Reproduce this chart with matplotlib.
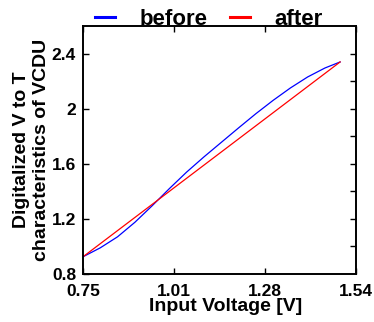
import matplotlib
matplotlib.use("Agg")
import matplotlib.pyplot as plt
import numpy as np

plt.rcParams['font.family'] = ['Liberation Sans', 'DejaVu Sans']
plt.rcParams['font.weight'] = 'bold'

# Data
x_before = [0.75, 0.80, 0.85, 0.90, 0.95, 1.00, 1.05, 1.10, 1.15, 1.20, 1.25, 1.30, 1.35, 1.40, 1.45, 1.494]
y_before = [0.925, 0.990, 1.070, 1.175, 1.295, 1.420, 1.540, 1.650, 1.755, 1.860, 1.963, 2.060, 2.150, 2.230, 2.295, 2.339]
x_after = [0.75, 1.494]
y_after = [0.925, 2.339]

x_ticks = [0.75, 1.0133, 1.2767, 1.54]
x_ticklabels = ['0.75', '1.01', '1.28', '1.54']
y_ticks = [0.8, 1.2, 1.6, 2.0, 2.4]
y_ticklabels = ['0.8', '1.2', '1.6', '2', '2.4']
y_right_ticks = [1.0, 1.2, 1.4, 1.6, 1.8, 2.0, 2.2, 2.4]

fig = plt.figure(figsize=(3.74, 3.22), dpi=100)
ax = fig.add_axes([83/374, 48/322, 273/374, 248/322])

ax.plot(x_before, y_before, color='#0000ff', lw=0.9, label='before')
ax.plot(x_after, y_after, color='#ff0000', lw=0.9, label='after')

ax.set_xlim(0.75, 1.54)
ax.set_ylim(0.8, 2.6)
ax.set_xticks(x_ticks)
ax.set_xticklabels(x_ticklabels)
ax.set_yticks(y_ticks)
ax.set_yticklabels(y_ticklabels)
ax.tick_params(direction='in', length=4, width=1, labelsize=12.5,
               top=True, right=False)
ax.tick_params(axis='x', pad=7)
ax.tick_params(axis='y', pad=5)
for lab in ax.get_xticklabels() + ax.get_yticklabels():
    lab.set_fontweight('bold')

ax2 = ax.twinx()
ax2.set_ylim(0.8, 2.6)
ax2.set_yticks(y_right_ticks)
ax2.tick_params(direction='in', length=4, width=1, labelright=False)

for a in (ax, ax2):
    for s in a.spines.values():
        s.set_linewidth(1.2)

ax.set_xlabel('Input Voltage [V]', fontsize=14, fontweight='bold')
ax.xaxis.set_label_coords(0.524, -0.097)
ax.set_ylabel('Digitalized V to T\ncharacteristics of VCDU', fontsize=14,
              fontweight='bold', labelpad=1, linespacing=1.25)

leg = ax.legend(loc='lower center', bbox_to_anchor=(0.462, 0.985), ncol=2, frameon=False,
                prop={'size': 16, 'weight': 'bold'}, handlelength=0.9, handletextpad=1.1,
                columnspacing=1.0, borderaxespad=0, borderpad=0)
for h in leg.get_lines():
    h.set_linewidth(2.2)

fig.savefig('out.png', dpi=100)
